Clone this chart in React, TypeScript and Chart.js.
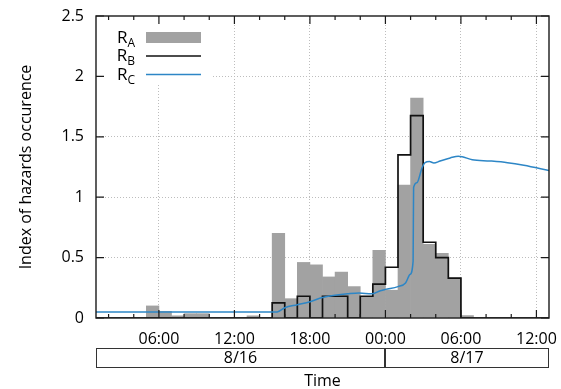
import React, { useEffect, useRef } from 'react';
import { Chart, registerables } from 'chart.js';

Chart.register(...registerables);

// ---- data (hours counted from 8/16 00:00) ----
const X_MIN = 1;
const X_MAX = 37;
const BIN_STARTS = [1, 2, 3, 4, 5, 6, 7, 8, 9, 10, 11, 12, 13, 14, 15, 16, 17, 18, 19, 20, 21, 22, 23, 24, 25, 26, 27, 28, 29, 30, 31, 32, 33, 34, 35, 36];
const RA_VALUES = [0, 0, 0, 0, 0.10, 0.055, 0.018, 0.036, 0.036, 0, 0, 0, 0.018, 0, 0.70, 0.16, 0.46, 0.44, 0.34, 0.38, 0.26, 0.18, 0.56, 0.23, 1.10, 1.82, 0.61, 0.535, 0.33, 0.02, 0, 0, 0, 0, 0, 0];
const RB_EDGES = [1, 2, 3, 4, 5, 6, 7, 8, 9, 10, 11, 12, 13, 14, 15, 16, 17, 18, 19, 20, 21, 22, 23, 24, 25, 26, 27, 28, 29, 30, 31, 32, 33, 34, 35, 36, 37];
const RB_VALUES = [0, 0, 0, 0, 0, 0, 0, 0, 0, 0, 0, 0, 0, 0, 0.125, 0, 0.18, 0, 0.18, 0.18, 0, 0.18, 0.28, 0.42, 1.35, 1.675, 0.627, 0.50, 0.33, 0, 0, 0, 0, 0, 0, 0, 0];
const RC_TIMES = [1, 15.4, 16.0, 17.0, 18.0, 19.0, 20.0, 21.0, 21.9, 22.9, 23.6, 24.0, 25.0, 25.6, 25.95, 26.2, 26.24, 26.5, 26.9, 27.15, 27.5, 27.85, 28.35, 29.15, 29.8, 30.1, 30.9, 32.3, 33.7, 35.0, 37.0];
const RC_VALUES = [0.05, 0.05, 0.085, 0.11, 0.135, 0.17, 0.188, 0.20, 0.207, 0.20, 0.226, 0.237, 0.26, 0.29, 0.36, 0.47, 1.08, 1.12, 1.24, 1.287, 1.295, 1.283, 1.30, 1.325, 1.34, 1.335, 1.31, 1.30, 1.286, 1.264, 1.22];

const Y_TICKS = [0, 0.5, 1, 1.5, 2, 2.5];
const X_MAJOR_TICKS = [6, 12, 18, 24, 30, 36];
const X_MINOR_TICKS = [2, 4, 8, 10, 14, 16, 20, 22, 26, 28, 32, 34];
const DATE_LABELS = ['8/16', '8/17'];
const DATE_EDGES = [1, 24, 37];
const LEGEND_LABELS = [['R', 'A'], ['R', 'B'], ['R', 'C']];

const FONT = "'Open Sans', sans-serif";
const GRAY = '#a2a2a2';
const BLUE = '#2d86c6';
const BLACK = '#111111';
const GRID = '#bdbdbd';

function fmtHour(v: number) {
  const h = ((v % 24) + 24) % 24;
  return (h < 10 ? '0' : '') + h + ':00';
}

export default function App() {
  const ref = useRef<HTMLCanvasElement>(null);

  useEffect(() => {
    const canvas = ref.current!;
    const raData = BIN_STARTS.map((t, i) => ({ x: t + 0.5, y: RA_VALUES[i] }));
    const rbData = RB_EDGES.map((t, i) => ({ x: t, y: RB_VALUES[i] }));
    const rcData = RC_TIMES.map((t, i) => ({ x: t, y: RC_VALUES[i] }));

    const decor = {
      id: 'decor',
      afterDraw(chart: any) {
        const { ctx, chartArea } = chart;
        const { left, right, top, bottom } = chartArea;
        const xs = chart.scales.x;
        const ys = chart.scales.y;
        ctx.save();

        // legend
        ctx.fillStyle = '#ffffff';
        ctx.fillRect(left + 1, top + 1, 114, 68);
        const rowCenters = [37.5, 56, 74.5];
        LEGEND_LABELS.forEach(([main, sub], i) => {
          const cy = rowCenters[i];
          ctx.font = `17px ${FONT}`;
          const wm = ctx.measureText(main).width;
          ctx.font = `12px ${FONT}`;
          const ws = ctx.measureText(sub).width;
          const x0 = 135 - wm - ws;
          ctx.fillStyle = '#000';
          ctx.textAlign = 'left';
          ctx.textBaseline = 'alphabetic';
          ctx.font = `17px ${FONT}`;
          ctx.fillText(main, x0, cy + 5);
          ctx.font = `12px ${FONT}`;
          ctx.fillText(sub, x0 + wm, cy + 9);
          if (i === 0) {
            ctx.fillStyle = GRAY;
            ctx.fillRect(146, cy - 5.5, 55, 11);
          } else {
            ctx.strokeStyle = i === 1 ? BLACK : BLUE;
            ctx.lineWidth = 1.6;
            ctx.beginPath();
            ctx.moveTo(146, cy);
            ctx.lineTo(201, cy);
            ctx.stroke();
          }
        });

        // frame
        ctx.strokeStyle = '#1a1a1a';
        ctx.lineWidth = 1.4;
        ctx.strokeRect(left, top, right - left, bottom - top);

        // x ticks (inward, top and bottom)
        ctx.lineWidth = 1.2;
        const drawX = (v: number, len: number) => {
          const px = xs.getPixelForValue(v);
          ctx.beginPath();
          ctx.moveTo(px, bottom);
          ctx.lineTo(px, bottom - len);
          ctx.moveTo(px, top);
          ctx.lineTo(px, top + len);
          ctx.stroke();
        };
        X_MAJOR_TICKS.forEach((v) => drawX(v, 8));
        X_MINOR_TICKS.forEach((v) => drawX(v, 4));
        Y_TICKS.forEach((v) => {
          const py = ys.getPixelForValue(v);
          ctx.beginPath();
          ctx.moveTo(left, py);
          ctx.lineTo(left + 8, py);
          ctx.moveTo(right, py);
          ctx.lineTo(right - 8, py);
          ctx.stroke();
        });

        // date bar
        ctx.strokeStyle = '#333';
        ctx.lineWidth = 1;
        ctx.fillStyle = '#000';
        ctx.font = `16px ${FONT}`;
        ctx.textAlign = 'center';
        ctx.textBaseline = 'middle';
        for (let i = 0; i < DATE_LABELS.length; i++) {
          const a = Math.round(xs.getPixelForValue(DATE_EDGES[i])) + 0.5;
          const b = Math.round(xs.getPixelForValue(DATE_EDGES[i + 1])) - 0.5;
          ctx.strokeRect(a, 348.5, b - a, 19);
          ctx.fillText(DATE_LABELS[i], (a + b) / 2, 358.5);
        }
        ctx.restore();
      },
    };

    const chart = new Chart(canvas, {
      type: 'bar',
      data: {
        datasets: [
          {
            type: 'line',
            label: 'RC',
            data: rcData,
            borderColor: BLUE,
            borderWidth: 1.5,
            pointRadius: 0,
            cubicInterpolationMode: 'monotone',
            fill: false,
            order: 1,
          } as any,
          {
            type: 'line',
            label: 'RB',
            data: rbData,
            borderColor: BLACK,
            borderWidth: 1.7,
            pointRadius: 0,
            stepped: 'before',
            fill: false,
            order: 2,
          } as any,
          {
            type: 'bar',
            label: 'RA',
            data: raData,
            backgroundColor: GRAY,
            borderWidth: 0,
            barPercentage: 1,
            categoryPercentage: 1,
            grouped: false,
            order: 3,
          } as any,
        ],
      },
      options: {
        responsive: false,
        animation: false,
        layout: { padding: { left: 0, top: 16, right: 12, bottom: 0 } },
        plugins: { legend: { display: false }, tooltip: { enabled: false } },
        scales: {
          x: {
            type: 'linear',
            min: X_MIN,
            max: X_MAX,
            offset: false,
            afterBuildTicks: (s: any) => {
              s.ticks = X_MAJOR_TICKS.map((v) => ({ value: v }));
            },
            afterFit: (s: any) => {
              s.height = 71;
              s.paddingLeft = 0;
              s.paddingRight = 0;
            },
            grid: { offset: false, drawTicks: false, color: GRID, lineWidth: 1 },
            border: { display: false, dash: [1, 2] },
            ticks: {
              padding: 12,
              color: '#000',
              font: { family: FONT, size: 16 },
              maxRotation: 0,
              autoSkip: false,
              callback: (v: any) => fmtHour(Number(v)),
            },
            title: {
              display: true,
              text: 'Time',
              color: '#000',
              font: { family: FONT, size: 16, lineHeight: 1 },
              padding: { top: 0, bottom: 0 },
            },
          } as any,
          y: {
            min: 0,
            max: 2.5,
            afterBuildTicks: (s: any) => {
              s.ticks = Y_TICKS.map((v) => ({ value: v }));
            },
            afterFit: (s: any) => {
              s.width = 96;
              s.paddingTop = 0;
              s.paddingBottom = 0;
            },
            grid: {
              drawTicks: false,
              lineWidth: 1,
              color: (c: any) =>
                c.tick && (c.tick.value === 0 || c.tick.value === 2.5) ? 'rgba(0,0,0,0)' : GRID,
            },
            border: { display: false, dash: [1, 2] },
            ticks: {
              padding: 12,
              color: '#000',
              font: { family: FONT, size: 16 },
              callback: (v: any) => String(v),
            },
            title: {
              display: true,
              text: 'Index of hazards occurence',
              color: '#000',
              font: { family: FONT, size: 16 },
              padding: { top: 17, bottom: 0 },
            },
          } as any,
        },
      },
      plugins: [decor],
    });
    return () => chart.destroy();
  }, []);

  return (
    <div style={{ position: 'absolute', left: 0, top: 0, width: 561, height: 389, background: '#fff' }}>
      <canvas ref={ref} width={561} height={389} style={{ display: 'block' }} />
    </div>
  );
}
